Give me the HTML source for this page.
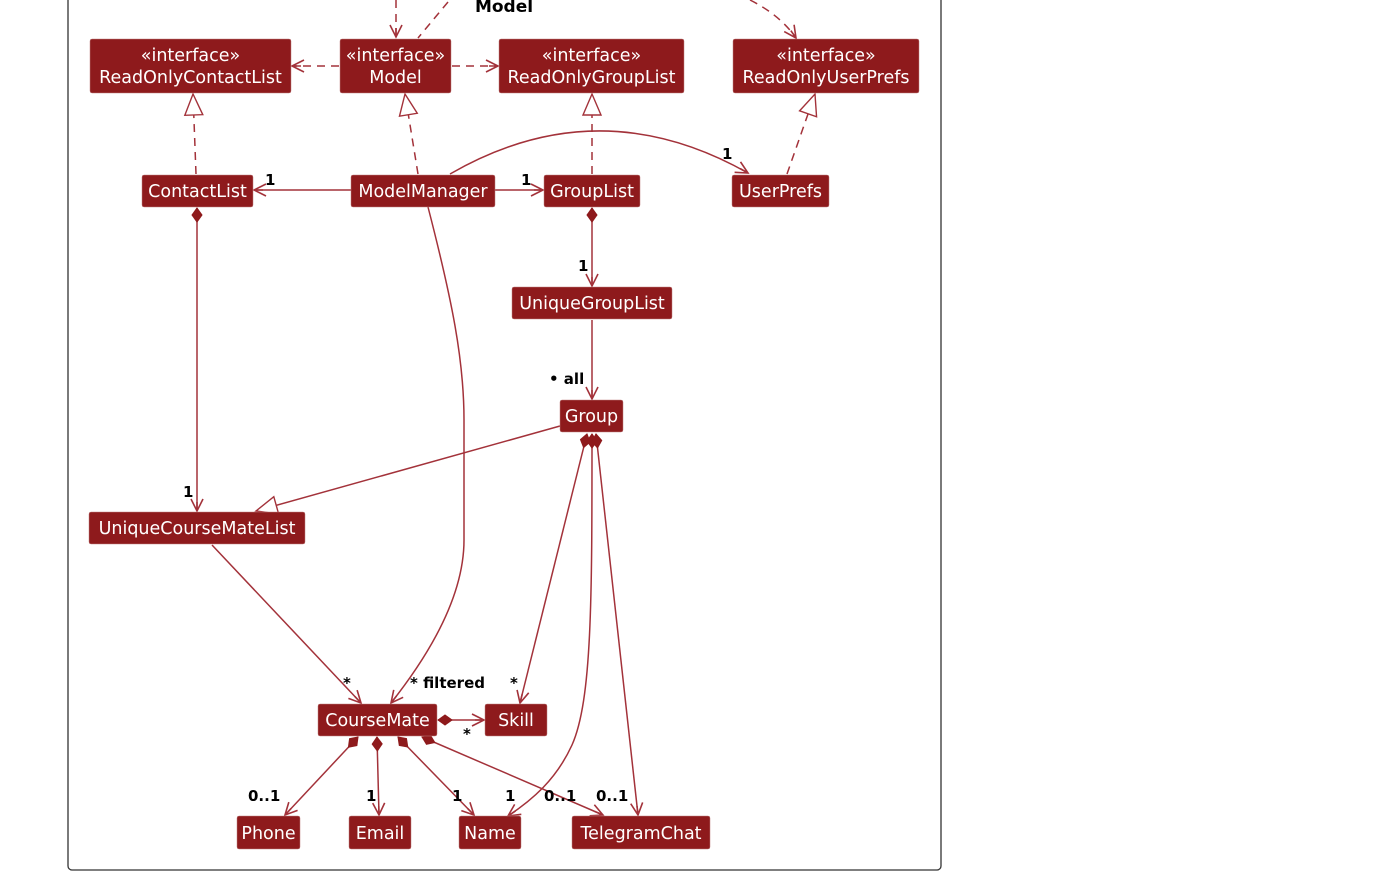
<!DOCTYPE html>
<html><head><meta charset="utf-8"><style>
html,body{margin:0;padding:0;background:#fff;width:1398px;height:877px;overflow:hidden}
svg{display:block}
.b{fill:#8e1a1c;stroke:#c08080;stroke-width:0.5}
.t{fill:#fff;font-family:"DejaVu Sans","Liberation Sans",sans-serif;font-size:17.5px;text-anchor:middle}
.l{fill:none;stroke:#a3323a;stroke-width:1.5}
.d{stroke-dasharray:8,6}
.lab{font-family:"DejaVu Sans","Liberation Sans",sans-serif;font-size:15px;font-weight:bold;fill:#000}
</style></head><body>
<svg width="1398" height="877" viewBox="0 0 1398 877" xmlns="http://www.w3.org/2000/svg">
<defs>
<marker id="a" markerUnits="userSpaceOnUse" markerWidth="16" markerHeight="16" viewBox="0 0 16 16" refX="14" refY="8" orient="auto">
<path d="M2,2 L14,8 L2,14 M14,8 L5,8" fill="none" stroke="#a3323a" stroke-width="1.6"/></marker>
<marker id="tr" markerUnits="userSpaceOnUse" markerWidth="24" markerHeight="24" viewBox="0 0 24 24" refX="22" refY="12" orient="auto">
<path d="M1,3 L22,12 L1,21 Z" fill="#fff" stroke="#a3323a" stroke-width="1.4"/></marker>
<marker id="dm" markerUnits="userSpaceOnUse" markerWidth="20" markerHeight="14" viewBox="0 0 20 14" refX="1" refY="7" orient="auto">
<path d="M1,7 L8,2 L15,7 L8,12 Z" fill="#8e1a1c" stroke="#8e1a1c"/></marker>
</defs>
<rect x="68" y="-10" width="873" height="880" rx="4" fill="none" stroke="#333" stroke-width="1.3"/>
<text x="504" y="12" class="lab" font-size="17" text-anchor="middle" style="font-size:17px">Model</text>

<!-- dashed top -->
<path class="l d" d="M396,0 L396,37" marker-end="url(#a)"/>
<path class="l d" d="M448,2 L418,38"/>
<path class="l d" d="M750,0 Q780,15 796,38" marker-end="url(#a)"/>
<path class="l d" d="M339,66 L292,66" marker-end="url(#a)"/>
<path class="l d" d="M452,66 L498,66" marker-end="url(#a)"/>

<!-- realizations -->
<path class="l d" d="M196,174 L193,94" marker-end="url(#tr)"/>
<path class="l d" d="M418,174 L405,94" marker-end="url(#tr)"/>
<path class="l d" d="M592,174 L592,94" marker-end="url(#tr)"/>
<path class="l d" d="M787,174 L815,94" marker-end="url(#tr)"/>

<!-- associations -->
<path class="l" d="M351,190 L254,190" marker-end="url(#a)"/>
<path class="l" d="M495,190 L543,190" marker-end="url(#a)"/>
<path class="l" d="M450,174 C540,122 640,112 748,173" marker-end="url(#a)"/>
<path class="l" d="M197,208 L197,511" marker-start="url(#dm)" marker-end="url(#a)"/>
<path class="l" d="M592,208 L592,286" marker-start="url(#dm)" marker-end="url(#a)"/>
<path class="l" d="M592,320 L592,399" marker-end="url(#a)"/>
<path class="l" d="M560,426 L256,511" marker-end="url(#tr)"/>
<path class="l" d="M428,207 C452,300 464,360 464,420 L464,540 C464,600 425,660 391,703" marker-end="url(#a)"/>
<path class="l" d="M212,545 L361,703" marker-end="url(#a)"/>
<path class="l" d="M587,434 L520,703" marker-start="url(#dm)" marker-end="url(#a)"/>
<path class="l" d="M592,434 C592,600 592,700 572,745 C556,780 532,800 508,816" marker-start="url(#dm)" marker-end="url(#a)"/>
<path class="l" d="M596,434 L638,815" marker-start="url(#dm)" marker-end="url(#a)"/>
<path class="l" d="M438,720 L484,720" marker-start="url(#dm)" marker-end="url(#a)"/>
<path class="l" d="M358,737 L285,815" marker-start="url(#dm)" marker-end="url(#a)"/>
<path class="l" d="M377,737 L379,815" marker-start="url(#dm)" marker-end="url(#a)"/>
<path class="l" d="M398,737 L474,815" marker-start="url(#dm)" marker-end="url(#a)"/>
<path class="l" d="M422,737 L603,815" marker-start="url(#dm)" marker-end="url(#a)"/>

<!-- labels -->
<text class="lab" x="265" y="185">1</text>
<text class="lab" x="521" y="185">1</text>
<text class="lab" x="722" y="159">1</text>
<text class="lab" x="183" y="497">1</text>
<text class="lab" x="578" y="271">1</text>
<text class="lab" x="549" y="384">• all</text>
<text class="lab" x="343" y="688">*</text>
<text class="lab" x="410" y="688">* filtered</text>
<text class="lab" x="510" y="688">*</text>
<text class="lab" x="463" y="739">*</text>
<text class="lab" x="248" y="801">0..1</text>
<text class="lab" x="366" y="801">1</text>
<text class="lab" x="452" y="801">1</text>
<text class="lab" x="505" y="801">1</text>
<text class="lab" x="544" y="801">0..1</text>
<text class="lab" x="596" y="801">0..1</text>

<!-- boxes -->
<rect class="b" x="90" y="39" width="201" height="54" rx="2"/>
<text class="t" x="190.5" y="61">«interface»</text><text class="t" x="190.5" y="83">ReadOnlyContactList</text>
<rect class="b" x="340" y="39" width="111" height="54" rx="2"/>
<text class="t" x="395.5" y="61">«interface»</text><text class="t" x="395.5" y="83">Model</text>
<rect class="b" x="499" y="39" width="185" height="54" rx="2"/>
<text class="t" x="591.5" y="61">«interface»</text><text class="t" x="591.5" y="83">ReadOnlyGroupList</text>
<rect class="b" x="733" y="39" width="186" height="54" rx="2"/>
<text class="t" x="826" y="61">«interface»</text><text class="t" x="826" y="83">ReadOnlyUserPrefs</text>

<rect class="b" x="142" y="175" width="111" height="32" rx="2"/><text class="t" x="197.5" y="197">ContactList</text>
<rect class="b" x="351" y="175" width="144" height="32" rx="2"/><text class="t" x="423" y="197">ModelManager</text>
<rect class="b" x="544" y="175" width="96" height="32" rx="2"/><text class="t" x="592" y="197">GroupList</text>
<rect class="b" x="732" y="175" width="97" height="32" rx="2"/><text class="t" x="780.5" y="197">UserPrefs</text>
<rect class="b" x="512" y="287" width="160" height="32" rx="2"/><text class="t" x="592" y="309">UniqueGroupList</text>
<rect class="b" x="560" y="400" width="63" height="32" rx="2"/><text class="t" x="591.5" y="422">Group</text>
<rect class="b" x="89" y="512" width="216" height="32" rx="2"/><text class="t" x="197" y="534">UniqueCourseMateList</text>
<rect class="b" x="318" y="704" width="119" height="32" rx="2"/><text class="t" x="377.5" y="726">CourseMate</text>
<rect class="b" x="485" y="704" width="62" height="32" rx="2"/><text class="t" x="516" y="726">Skill</text>
<rect class="b" x="237" y="816" width="63" height="33" rx="2"/><text class="t" x="268.5" y="839">Phone</text>
<rect class="b" x="349" y="816" width="62" height="33" rx="2"/><text class="t" x="380" y="839">Email</text>
<rect class="b" x="459" y="816" width="62" height="33" rx="2"/><text class="t" x="490" y="839">Name</text>
<rect class="b" x="572" y="816" width="138" height="33" rx="2"/><text class="t" x="641" y="839">TelegramChat</text>
</svg>
</body></html>
